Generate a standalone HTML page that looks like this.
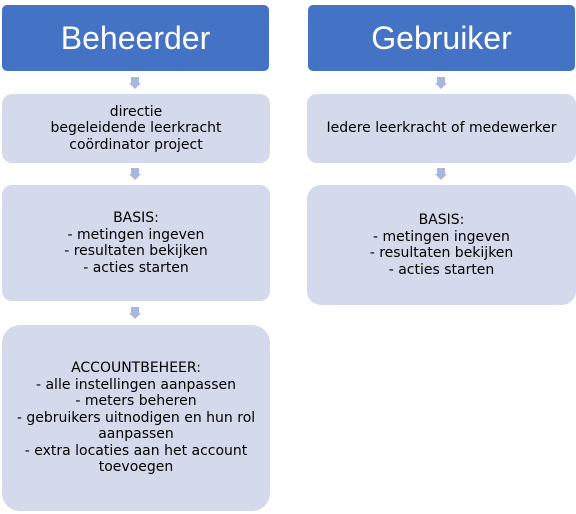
<!DOCTYPE html>
<html><head><style>
body{margin:0;width:576px;height:514px;background:#fff;position:relative;font-family:"Liberation Sans","DejaVu Sans",sans-serif;overflow:hidden}
.b{position:absolute;display:flex;align-items:center;justify-content:center;text-align:center;box-sizing:border-box}
.h{background:#4472c4;color:#fff;font-size:32px;border-radius:5px}
.l{background:#d5d9ec;color:#000;font-family:"DejaVu Sans",sans-serif;font-size:14px;line-height:16.5px;border-radius:10px}
.a{position:absolute;width:0;height:0}
.a i{position:absolute;left:-4px;top:0;width:8px;height:6px;background:#a9b6de}
.a b{position:absolute;left:-6px;top:6px;border-left:6px solid transparent;border-right:6px solid transparent;border-top:6px solid #a9b6de}
</style></head><body>
<div class="b h" style="left:2px;top:5px;width:267px;height:66px">Beheerder</div>
<div class="b h" style="left:308px;top:5px;width:267px;height:66px">Gebruiker</div>
<div class="b l" style="left:2px;top:94px;width:268px;height:69px">directie<br>begeleidende leerkracht<br>coördinator project</div>
<div class="b l" style="left:2px;top:185px;width:268px;height:116px">BASIS:<br>- metingen ingeven<br>- resultaten bekijken<br>- acties starten</div>
<div class="b l" style="left:2px;top:325px;width:268px;height:186px;border-radius:18px">ACCOUNTBEHEER:<br>- alle instellingen aanpassen<br>- meters beheren<br>- gebruikers uitnodigen en hun rol<br>aanpassen<br>- extra locaties aan het account<br>toevoegen</div>
<div class="b l" style="left:307px;top:94px;width:269px;height:69px">Iedere leerkracht of medewerker</div>
<div class="b l" style="left:307px;top:185px;width:269px;height:120px;border-radius:14px">BASIS:<br>- metingen ingeven<br>- resultaten bekijken<br>- acties starten</div>
<div class="a" style="left:135px;top:77px"><i></i><b></b></div>
<div class="a" style="left:135px;top:168px"><i></i><b></b></div>
<div class="a" style="left:135px;top:307px"><i></i><b></b></div>
<div class="a" style="left:441px;top:77px"><i></i><b></b></div>
<div class="a" style="left:441px;top:168px"><i></i><b></b></div>
</body></html>
